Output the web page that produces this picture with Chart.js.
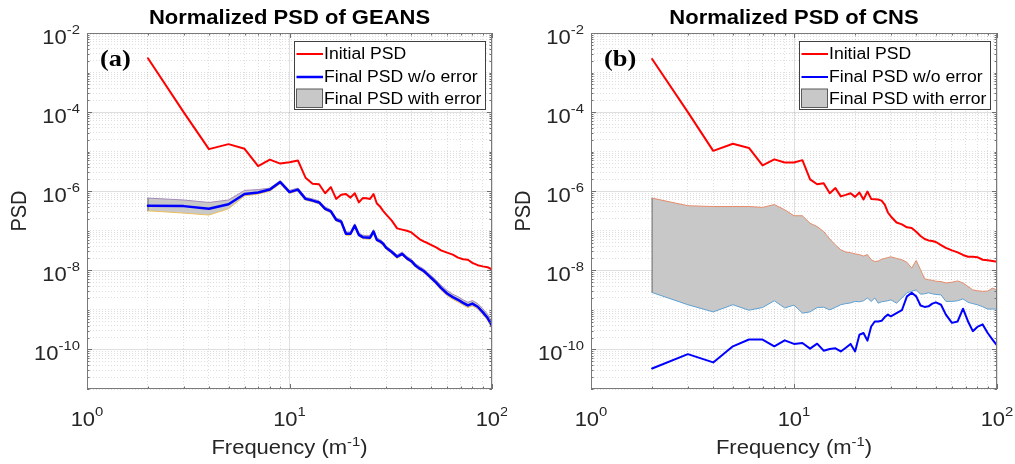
<!DOCTYPE html>
<html>
<head>
<meta charset="utf-8">
<title>Normalized PSD</title>
<script src="https://cdn.jsdelivr.net/npm/chart.js@4.4.1/dist/chart.umd.min.js"></script>
<style>
  html, body { margin: 0; padding: 0; background: #fff; }
  #wrap { position: relative; width: 1015px; height: 464px; overflow: hidden; }
  .panel { position: absolute; top: 0; }
  #panelA { left: 0; }
  #panelB { left: 507px; }
</style>
</head>
<body>
<div id="wrap">
  <div class="panel" id="panelA"><canvas id="chartA" width="507" height="464"></canvas></div>
  <div class="panel" id="panelB"><canvas id="chartB" width="508" height="464"></canvas></div>
</div>
<script>
// ---- data ----
const freq = [
  2, 3, 4, 5, 6, 7, 8, 9, 10, 11,
  12, 13, 14, 15, 16, 17, 18, 19, 20, 21,
  22, 23, 24, 25, 26, 27, 28, 29, 30, 32,
  34, 36, 38, 40, 42, 44, 46, 48, 50, 53,
  56, 60, 64, 68, 72, 76, 80, 85, 90, 95, 100
];

// (a) GEANS
const geansInitial = [
  2.3e-3, 1.0e-4, 1.16e-5, 1.55e-5, 1.18e-5, 4.3e-6, 6.3e-6, 5.0e-6, 5.4e-6, 6.0e-6,
  2.2e-6, 1.55e-6, 1.5e-6, 8.9e-7, 1.27e-6, 6.4e-7, 8.1e-7, 8.5e-7, 6.9e-7, 8.9e-7,
  5.2e-7, 6.7e-7, 6.6e-7, 6.4e-7, 8.5e-7, 4.9e-7, 4.1e-7, 3.2e-7, 2.6e-7, 1.8e-7,
  1.15e-7, 1.07e-7, 1.0e-7, 9.1e-8, 7.4e-8, 6.1e-8, 5.4e-8, 4.9e-8, 4.4e-8, 3.8e-8,
  3.2e-8, 2.8e-8, 2.5e-8, 2.1e-8, 1.9e-8, 1.85e-8, 1.55e-8, 1.35e-8, 1.26e-8, 1.2e-8, 1.05e-8
];
const geansFinal = [
  4.3e-7, 4.2e-7, 3.6e-7, 4.7e-7, 8.5e-7, 9.3e-7, 1.1e-6, 1.7e-6, 9.5e-7, 1.1e-6,
  6.4e-7, 5.8e-7, 5.2e-7, 3.6e-7, 3.1e-7, 1.9e-7, 1.7e-7, 8.4e-8, 8.4e-8, 1.35e-7,
  7.9e-8, 6.9e-8, 6.8e-8, 6.7e-8, 9.6e-8, 5.9e-8, 5.4e-8, 4.7e-8, 3.7e-8, 2.9e-8,
  2.2e-8, 2.6e-8, 2.0e-8, 1.7e-8, 1.3e-8, 1.1e-8, 9.6e-9, 7.9e-9, 6.5e-9, 4.9e-9,
  3.6e-9, 2.6e-9, 2.1e-9, 1.8e-9, 1.5e-9, 1.3e-9, 1.44e-9, 1.2e-9, 8.8e-10, 6.3e-10, 4.0e-10
];
const geansUpper = [
  6.7e-7, 6.0e-7, 5.2e-7, 6.0e-7, 1.05e-6, 1.1e-6, 1.2e-6, 1.85e-6, 1.05e-6, 1.2e-6,
  7.0e-7, 6.4e-7, 5.7e-7, 4.0e-7, 3.4e-7, 2.1e-7, 1.9e-7, 9.3e-8, 9.3e-8, 1.5e-7,
  8.8e-8, 7.7e-8, 7.6e-8, 7.5e-8, 1.07e-7, 6.6e-8, 6.0e-8, 5.2e-8, 4.1e-8, 3.2e-8,
  2.45e-8, 2.9e-8, 2.25e-8, 1.9e-8, 1.46e-8, 1.24e-8, 1.08e-8, 8.9e-9, 7.4e-9, 5.7e-9,
  4.2e-9, 3.1e-9, 2.5e-9, 2.15e-9, 1.8e-9, 1.56e-9, 1.72e-9, 1.45e-9, 1.08e-9, 7.8e-10, 5.0e-10
];
const geansLower = [
  3.2e-7, 2.8e-7, 2.5e-7, 3.6e-7, 7.6e-7, 8.5e-7, 1.0e-6, 1.55e-6, 8.8e-7, 1.02e-6,
  5.9e-7, 5.4e-7, 4.8e-7, 3.3e-7, 2.85e-7, 1.75e-7, 1.56e-7, 7.7e-8, 7.7e-8, 1.24e-7,
  7.3e-8, 6.3e-8, 6.2e-8, 6.1e-8, 8.8e-8, 5.4e-8, 4.9e-8, 4.3e-8, 3.4e-8, 2.65e-8,
  2.0e-8, 2.4e-8, 1.83e-8, 1.55e-8, 1.19e-8, 1.0e-8, 8.8e-9, 7.2e-9, 5.9e-9, 4.4e-9,
  3.2e-9, 2.3e-9, 1.85e-9, 1.58e-9, 1.32e-9, 1.14e-9, 1.27e-9, 1.05e-9, 7.7e-10, 5.5e-10, 3.5e-10
];

// (b) CNS
const cnsInitial = [
  2.2e-3, 1.0e-4, 1.05e-5, 1.58e-5, 1.24e-5, 4.5e-6, 6.4e-6, 5.3e-6, 5.3e-6, 6.1e-6,
  2.0e-6, 1.5e-6, 1.6e-6, 8.9e-7, 1.2e-6, 7.4e-7, 8.1e-7, 8.9e-7, 7.2e-7, 9.3e-7,
  6.2e-7, 9.8e-7, 6.4e-7, 6.3e-7, 6.2e-7, 5.8e-7, 4.6e-7, 2.9e-7, 2.3e-7, 1.62e-7,
  1.45e-7, 1.22e-7, 1.17e-7, 9.4e-8, 7.4e-8, 6.2e-8, 5.7e-8, 5.5e-8, 5.2e-8, 4.35e-8,
  3.7e-8, 3.2e-8, 2.85e-8, 2.45e-8, 2.2e-8, 2.2e-8, 2.15e-8, 1.85e-8, 1.8e-8, 1.72e-8, 1.65e-8
];
const cnsFinal = [
  3.3e-11, 7.6e-11, 4.7e-11, 1.2e-10, 1.78e-10, 1.78e-10, 1.2e-10, 1.7e-10, 1.38e-10, 1.45e-10,
  1.05e-10, 1.4e-10, 9.3e-11, 1.03e-10, 1.07e-10, 8.9e-11, 1.1e-10, 1.38e-10, 8.9e-11, 2.35e-10,
  2.6e-10, 1.67e-10, 3.8e-10, 5.1e-10, 5.1e-10, 5.3e-10, 6.6e-10, 7.6e-10, 6.9e-10, 8.3e-10,
  9.8e-10, 2.2e-9, 2.7e-9, 2.2e-9, 1.29e-9, 1.19e-9, 1.23e-9, 1.44e-9, 1.55e-9, 1.35e-9,
  7.6e-10, 4.7e-10, 5.1e-10, 1.07e-9, 5.1e-10, 2.9e-10, 3.7e-10, 4.3e-10, 2.6e-10, 1.78e-10, 1.26e-10
];
const cnsUpper = [
  6.7e-7, 4.3e-7, 4.1e-7, 4.1e-7, 4.1e-7, 3.9e-7, 4.6e-7, 3.4e-7, 2.4e-7, 2.4e-7,
  1.55e-7, 1.28e-7, 9.6e-8, 6.2e-8, 4.4e-8, 3.3e-8, 2.9e-8, 2.8e-8, 2.6e-8, 2.5e-8,
  2.3e-8, 2.5e-8, 1.86e-8, 1.67e-8, 1.72e-8, 1.9e-8, 2.0e-8, 2.1e-8, 2.2e-8, 2.0e-8,
  1.86e-8, 1.6e-8, 1.14e-8, 1.78e-8, 1.04e-8, 6.1e-9, 5.8e-9, 5.6e-9, 5.3e-9, 5.2e-9,
  4.8e-9, 5.0e-9, 5.4e-9, 4.8e-9, 3.9e-9, 3.2e-9, 3.05e-9, 2.95e-9, 3.0e-9, 3.55e-9, 3.2e-9
];
const cnsLower = [
  2.75e-9, 1.35e-9, 8.9e-10, 1.35e-9, 9.8e-10, 1.15e-9, 1.7e-9, 1.12e-9, 1.32e-9, 8.3e-10,
  8.9e-10, 1.15e-9, 1.17e-9, 1.0e-9, 1.16e-9, 1.35e-9, 1.44e-9, 1.5e-9, 1.64e-9, 1.6e-9,
  1.7e-9, 2.0e-9, 1.64e-9, 2.0e-9, 1.48e-9, 1.6e-9, 1.65e-9, 1.7e-9, 1.8e-9, 1.48e-9,
  2.0e-9, 2.7e-9, 2.95e-9, 3.2e-9, 2.5e-9, 2.55e-9, 2.7e-9, 2.55e-9, 2.45e-9, 2.4e-9,
  1.64e-9, 1.64e-9, 1.7e-9, 1.9e-9, 1.55e-9, 1.44e-9, 1.35e-9, 1.2e-9, 1.05e-9, 1.05e-9, 1.05e-9
];

// axis ranges / labelled decades
const xRange = [1, 100];
const yRange = [1e-11, 1e-2];
const xTickExps = [0, 1, 2];
const yTickExps = [-10, -8, -6, -4, -2];
const legendLabels = ['Initial PSD', 'Final PSD w/o error', 'Final PSD with error'];

// ---- styling helpers ----
const SANS = '"Liberation Sans", Arial, sans-serif';
const SX = 1.1;                 // reference text is slightly wider than tall
const MAJOR_GRID = 'rgba(38,38,38,0.15)';
const MINOR_GRID = 'rgba(38,38,38,0.15)';
const BAND_FILL = '#c8c8c8';

const isDecade = (v, exps) => exps.some(e => Math.abs(Math.log10(v) - e) < 1e-6);
const wholeMantissa = v => {
  const e = Math.floor(Math.log10(v) + 1e-9);
  const m = v / Math.pow(10, e);
  return Math.abs(m - Math.round(m)) < 1e-6;
};
const pts = arr => freq.map((f, i) => ({ x: f, y: arr[i] }));

function drawText(ctx, text, x, y, align) {
  const w = ctx.measureText(text).width * SX;
  const x0 = align === 'center' ? x - w / 2 : align === 'right' ? x - w : x;
  ctx.save();
  ctx.translate(x0, y);
  ctx.scale(SX, 1);
  ctx.textAlign = 'left';
  ctx.fillText(text, 0, 0);
  ctx.restore();
  return w;
}

// "10" with a raised exponent
function drawPower(ctx, exp, x, y, align, raise) {
  const base = '20px ' + SANS, sup = '13.5px ' + SANS;
  ctx.font = base;
  const wb = ctx.measureText('10').width * SX;
  ctx.font = sup;
  const we = ctx.measureText(String(exp)).width * SX;
  const total = wb + we;
  const x0 = align === 'center' ? x - total / 2 : align === 'right' ? x - total : x;
  ctx.font = base;
  drawText(ctx, '10', x0, y, 'left');
  ctx.font = sup;
  drawText(ctx, String(exp), x0 + wb, y - raise, 'left');
}

// MATLAB-like frame, labels, titles and legend
const matlabAxes = {
  id: 'matlabAxes',
  afterDraw(chart, args, opts) {
    const { ctx, chartArea: a, scales: { x, y } } = chart;
    const cx = (a.left + a.right) / 2, cy = (a.top + a.bottom) / 2;
    ctx.save();

    // inner tick marks
    ctx.strokeStyle = '#6e6e6e';
    ctx.lineWidth = 1;
    ctx.beginPath();
    x.ticks.forEach(t => {
      const px = Math.round(x.getPixelForValue(t.value)) + 0.5;
      const len = isDecade(t.value, xTickExps) ? 5 : 2.5;
      ctx.moveTo(px, a.bottom); ctx.lineTo(px, a.bottom - len);
      ctx.moveTo(px, a.top); ctx.lineTo(px, a.top + len);
    });
    y.ticks.forEach(t => {
      const py = Math.round(y.getPixelForValue(t.value)) + 0.5;
      const len = isDecade(t.value, yTickExps) ? 5 : 2.5;
      ctx.moveTo(a.left, py); ctx.lineTo(a.left + len, py);
      ctx.moveTo(a.right, py); ctx.lineTo(a.right - len, py);
    });
    ctx.stroke();

    // box
    ctx.strokeStyle = '#7a7a7a';
    ctx.strokeRect(Math.round(a.left) + 0.5, Math.round(a.top) + 0.5,
      Math.round(a.right - a.left) - 1, Math.round(a.bottom - a.top) - 1);

    // tick labels
    ctx.fillStyle = '#262626';
    ctx.textBaseline = 'alphabetic';
    xTickExps.forEach(e => {
      drawPower(ctx, e, x.getPixelForValue(Math.pow(10, e)), a.bottom + 37, 'center', 10);
    });
    yTickExps.forEach(e => {
      drawPower(ctx, e, a.left - 7, y.getPixelForValue(Math.pow(10, e)) + 10.5, 'right', 10);
    });

    // x axis title with superscript
    ctx.font = '20px ' + SANS;
    const part1 = 'Frequency (m', part3 = ')';
    const w1 = ctx.measureText(part1).width * SX;
    const w3 = ctx.measureText(part3).width * SX;
    ctx.font = '13.5px ' + SANS;
    const w2 = ctx.measureText('-1').width * SX;
    const xs = cx - (w1 + w2 + w3) / 2;
    const yb = a.bottom + 64.5;
    ctx.font = '20px ' + SANS;
    drawText(ctx, part1, xs, yb, 'left');
    ctx.font = '13.5px ' + SANS;
    drawText(ctx, '-1', xs + w1, yb - 7.5, 'left');
    ctx.font = '20px ' + SANS;
    drawText(ctx, part3, xs + w1 + w2, yb, 'left');

    // y axis title
    ctx.save();
    ctx.translate(a.left - 67, cy);
    ctx.scale(SX, 1);
    ctx.rotate(-Math.PI / 2);
    ctx.font = '20px ' + SANS;
    ctx.textAlign = 'center';
    ctx.textBaseline = 'middle';
    ctx.fillText('PSD', 0, 0);
    ctx.restore();

    // title
    ctx.fillStyle = '#000';
    ctx.font = 'bold 20px ' + SANS;
    drawText(ctx, opts.title, cx, a.top - 9, 'center');

    // panel tag
    ctx.font = 'bold 24px "Liberation Serif", "Times New Roman", serif';
    drawText(ctx, opts.tag, a.left + 13, a.top + 32.5, 'left');

    // legend
    const bw = 191, bh = 68;
    const bx = Math.round(a.right - 7.5 - bw) + 0.5, by = Math.round(a.top + 8) + 0.5;
    ctx.fillStyle = '#fff';
    ctx.fillRect(bx, by, bw, bh);
    ctx.strokeStyle = '#404040';
    ctx.lineWidth = 1;
    ctx.strokeRect(bx, by, bw, bh);
    const rows = [12.5, 35.5, 58];
    ctx.lineCap = 'butt';
    ctx.strokeStyle = '#ff0000'; ctx.lineWidth = 2;
    ctx.beginPath(); ctx.moveTo(bx + 2, by + rows[0]); ctx.lineTo(bx + 28.5, by + rows[0]); ctx.stroke();
    ctx.strokeStyle = '#0000ff'; ctx.lineWidth = opts.blueWidth;
    ctx.beginPath(); ctx.moveTo(bx + 2, by + rows[1]); ctx.lineTo(bx + 28.5, by + rows[1]); ctx.stroke();
    ctx.fillStyle = BAND_FILL;
    ctx.fillRect(bx + 2, by + rows[2] - 10.5, 26, 18.5);
    ctx.strokeStyle = '#5a5a5a'; ctx.lineWidth = 1;
    ctx.strokeRect(bx + 2, by + rows[2] - 10.5, 26, 18.5);
    ctx.fillStyle = '#000';
    ctx.font = '16px ' + SANS;
    ctx.textBaseline = 'middle';
    legendLabels.forEach((lab, i) => drawText(ctx, lab, bx + 29.5, by + rows[i] + 0.5, 'left'));

    ctx.restore();
  }
};

function logAxis(range, majorExps, size, dim) {
  const major = c => c.tick && isDecade(c.tick.value, majorExps);
  return {
    type: 'logarithmic',
    min: range[0],
    max: range[1],
    afterBuildTicks: s => { s.ticks = s.ticks.filter(t => wholeMantissa(t.value)); },
    afterFit: s => { s[dim] = size; },
    ticks: { display: false, autoSkip: false },
    grid: {
      drawTicks: false,
      lineWidth: 1,
      color: c => major(c) ? MAJOR_GRID : MINOR_GRID
    },
    border: {
      display: false,
      dash: c => (c.tick && !major(c)) ? [1, 2] : []
    }
  };
}

function makePanel(canvasId, cfg) {
  const datasets = [
    { label: legendLabels[0], data: pts(cfg.initial), borderColor: '#ff0000', borderWidth: 2, order: 0 },
    { label: legendLabels[1], data: pts(cfg.final), borderColor: '#0000ff', borderWidth: cfg.blueWidth, order: 1 },
    { label: 'upper', data: pts(cfg.upper), borderColor: cfg.upperEdge, borderWidth: 1,
      fill: '+1', backgroundColor: BAND_FILL, order: 2 },
    { label: 'lower', data: pts(cfg.lower), borderColor: cfg.lowerEdge, borderWidth: 1, order: 3 },
    { label: 'edge', data: [{ x: freq[0], y: cfg.lower[0] }, { x: freq[0], y: cfg.upper[0] }],
      borderColor: '#7a7a7a', borderWidth: 1.2, order: 4 }
  ];
  return new Chart(document.getElementById(canvasId), {
    type: 'line',
    data: { datasets },
    options: {
      responsive: false,
      animation: false,
      events: [],
      layout: { padding: { left: 0, top: 33, right: cfg.padRight, bottom: 0 } },
      elements: {
        point: { radius: 0 },
        line: { tension: 0, fill: false, borderJoinStyle: 'round', borderCapStyle: 'round' }
      },
      plugins: {
        legend: { display: false },
        tooltip: { enabled: false },
        filler: { drawTime: 'beforeDatasetsDraw' },
        matlabAxes: { title: cfg.title, tag: cfg.tag, blueWidth: cfg.blueWidth }
      },
      scales: {
        x: logAxis(xRange, xTickExps, 75, 'height'),
        y: logAxis(yRange, yTickExps, cfg.axisWidth, 'width')
      }
    },
    plugins: [matlabAxes]
  });
}

makePanel('chartA', {
  title: 'Normalized PSD of GEANS', tag: '(a)',
  initial: geansInitial, final: geansFinal, upper: geansUpper, lower: geansLower,
  upperEdge: '#a58ab8', lowerEdge: '#ebbd5e', blueWidth: 2.5,
  axisWidth: 87, padRight: 15
});

makePanel('chartB', {
  title: 'Normalized PSD of CNS', tag: '(b)',
  initial: cnsInitial, final: cnsFinal, upper: cnsUpper, lower: cnsLower,
  upperEdge: '#e58c6b', lowerEdge: '#5da0d2', blueWidth: 2,
  axisWidth: 84, padRight: 18
});
</script>
</body>
</html>
